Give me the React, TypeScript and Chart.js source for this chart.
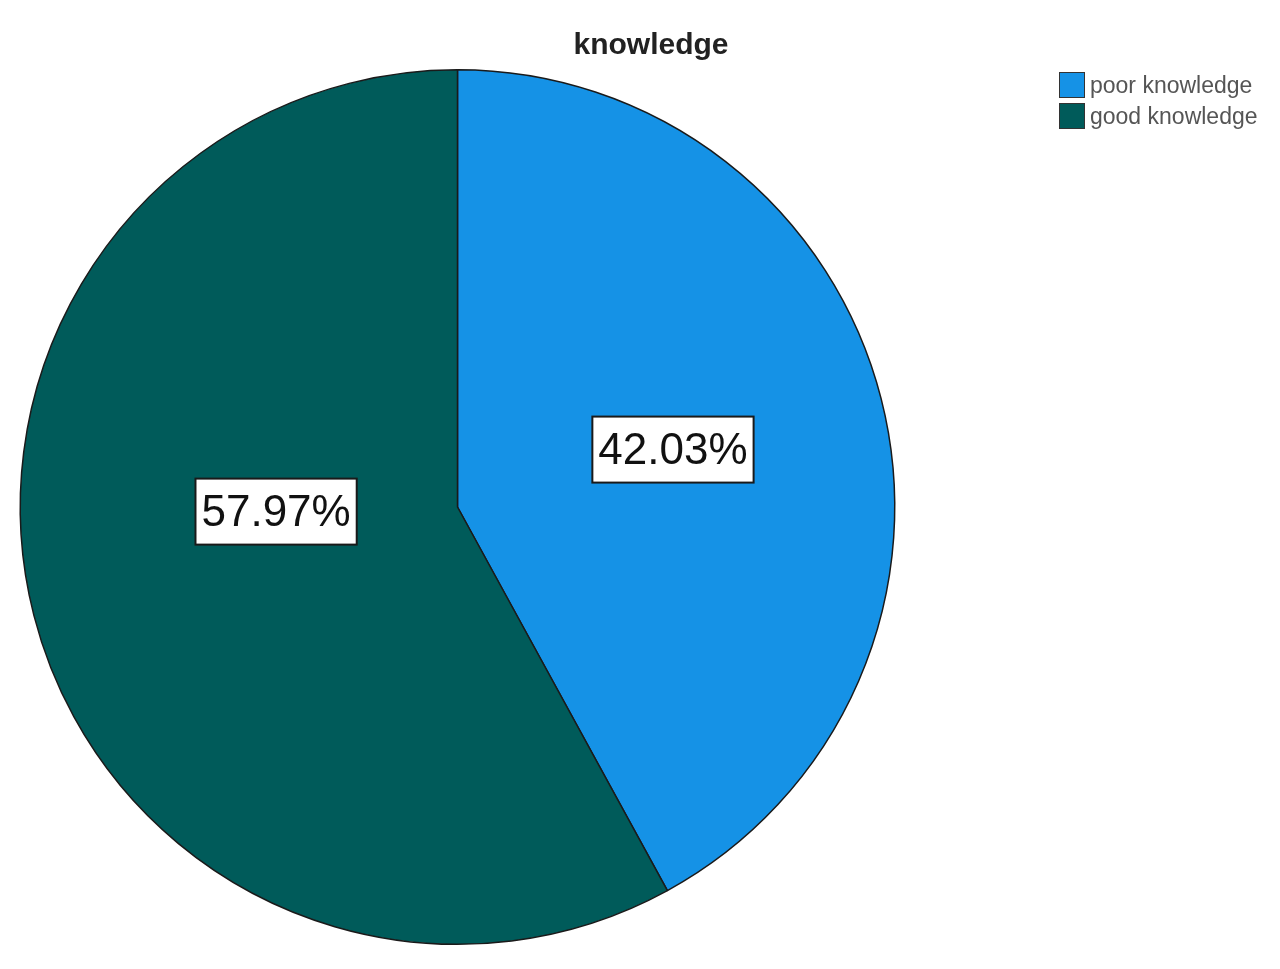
import React, { useEffect, useRef } from "react";
import { Chart, registerables } from "chart.js";

Chart.register(...registerables);

const title = "knowledge";
const categories = ["poor knowledge", "good knowledge"];
const values = [42.03, 57.97];
const sliceColors = ["#1592E6", "#005B5A"];
// label placement: fraction of radius and angle tweak (radians) per slice
const labelRadiusFraction = [0.51, 0.415];
const labelAngleShift = [-0.01, 0.225];

const overlayPlugin = {
  id: "overlay",
  afterDraw(chart: any) {
    const ctx = chart.ctx as CanvasRenderingContext2D;
    const meta = chart.getDatasetMeta(0);
    const ds = chart.data.datasets[0];
    // slice labels
    ctx.save();
    ctx.font = '44px "Liberation Sans", Arial, sans-serif';
    ctx.textAlign = "center";
    ctx.textBaseline = "middle";
    meta.data.forEach((arc: any, i: number) => {
      const p = arc.getProps(["x", "y", "startAngle", "endAngle", "outerRadius"], true);
      const mid = (p.startAngle + p.endAngle) / 2 + labelAngleShift[i];
      const r = p.outerRadius * labelRadiusFraction[i];
      const cx = p.x + Math.cos(mid) * r;
      const cy = p.y + Math.sin(mid) * r;
      const text = (ds.data[i] as number).toFixed(2) + "%";
      const w = ctx.measureText(text).width + 12;
      const h = 66;
      ctx.fillStyle = "#ffffff";
      ctx.fillRect(cx - w / 2, cy - h / 2, w, h);
      ctx.strokeStyle = "#1a1a1a";
      ctx.lineWidth = 2;
      ctx.strokeRect(cx - w / 2, cy - h / 2, w, h);
      ctx.fillStyle = "#111111";
      ctx.fillText(text, cx, cy + 2);
    });
    // title
    ctx.font = 'bold 30px "Liberation Sans", Arial, sans-serif';
    ctx.fillStyle = "#222222";
    ctx.fillText(title, 651, 46);
    // legend
    ctx.textAlign = "left";
    ctx.font = '23px "Liberation Sans", Arial, sans-serif';
    chart.data.labels.forEach((lab: string, i: number) => {
      const y = 72 + i * 31;
      ctx.fillStyle = sliceColors[i];
      ctx.fillRect(1059, y, 26, 26);
      ctx.strokeStyle = "#333333";
      ctx.lineWidth = 1;
      ctx.strokeRect(1059.5, y + 0.5, 25, 25);
      ctx.fillStyle = "#555555";
      ctx.fillText(lab, 1090, y + 15);
    });
    ctx.restore();
  },
};

export default function App() {
  const ref = useRef<HTMLCanvasElement | null>(null);
  useEffect(() => {
    document.body.style.margin = "0";
    const chart = new Chart(ref.current!, {
      type: "pie",
      data: {
        labels: categories,
        datasets: [
          {
            data: values,
            backgroundColor: sliceColors,
            borderColor: "#1a1a1a",
            borderWidth: 1.5,
          },
        ],
      },
      options: {
        animation: false,
        responsive: false,
        layout: { padding: { left: 19, right: 384, top: 69, bottom: 24 } },
        plugins: {
          legend: { display: false },
          tooltip: { enabled: false },
          title: { display: false },
        },
      },
      plugins: [overlayPlugin],
    });
    return () => chart.destroy();
  }, []);
  return (
    <div style={{ width: 1280, height: 969, background: "#fff" }}>
      <canvas ref={ref} width={1280} height={969} style={{ display: "block" }} />
    </div>
  );
}
